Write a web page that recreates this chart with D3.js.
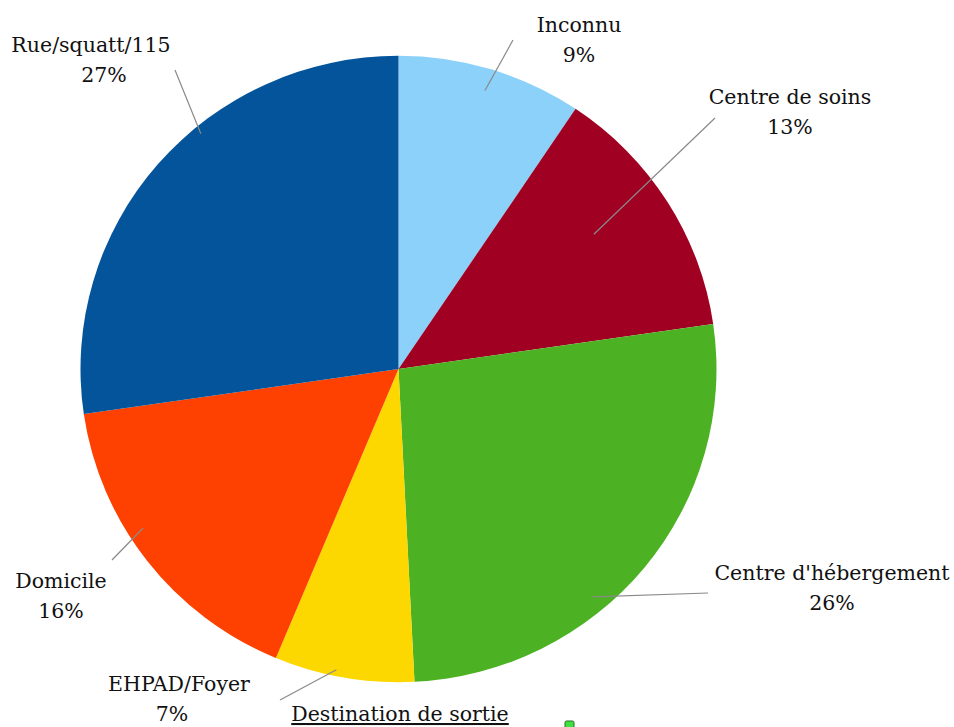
<!DOCTYPE html>
<html>
<head>
<meta charset="utf-8">
<script src="https://cdn.jsdelivr.net/npm/d3@7"></script>
<style>
  body { margin: 0; background: #fff; }
</style>
</head>
<body>
<svg id="chart" width="954" height="727"></svg>
<script>
var categories = ['Inconnu', 'Centre de soins', "Centre d'hébergement", 'EHPAD/Foyer', 'Domicile', 'Rue/squatt/115'];
var values = [9.4, 13.3, 26.5, 7.1, 16.4, 27.3];
var percentLabels = ['9%', '13%', '26%', '7%', '16%', '27%'];
var colors = ['#8bd1f9', '#a00022', '#4db223', '#fdd700', '#fe4000', '#03549b'];

var FONT = '"DejaVu Serif", serif';

// label layout: text centre, leader line inner end (angle deg, radius fraction) and outer end
var labelLayout = [
  { x: 579, y: 32, px: 579, lineAngle: 17, lineR: 0.93, lx: 513, ly: 40 },
  { x: 790, y: 104, px: 790, lineAngle: 55, lineR: 0.75, lx: 715, ly: 118 },
  { x: 832, y: 580, px: 832, lineAngle: 140, lineR: 0.95, lx: 708, ly: 593 },
  { x: 179, y: 691, px: 172, lineAngle: 191.5, lineR: 0.98, lx: 280, ly: 700 },
  { x: 61, y: 588, px: 61, lineAngle: 237.7, lineR: 0.95, lx: 112, ly: 560 },
  { x: 91, y: 52, px: 104, lineAngle: 320.4, lineR: 0.975, lx: 175, ly: 70 }
];

function renderPie() {
  var svg = d3.select('#chart'),
    cx = 398.5,
    cy = 369,
    radius = 318,
    squash = 0.985;

  var pie = d3.pie().sort(null).value(function (d) { return d; });
  var arcs = pie(values);
  var arc = d3.arc().innerRadius(0).outerRadius(radius);

  var g = svg.append('g')
    .attr('transform', 'translate(' + cx + ',' + cy + ') scale(1,' + squash + ')');

  g.selectAll('path')
    .data(arcs)
    .join('path')
    .attr('d', arc)
    .attr('fill', function (d, i) { return colors[i]; });

  // leader lines
  svg.selectAll('.leader')
    .data(labelLayout)
    .join('line')
    .attr('class', 'leader')
    .attr('x1', function (d) { return cx + radius * d.lineR * Math.sin(d.lineAngle * Math.PI / 180); })
    .attr('y1', function (d) { return cy - radius * squash * d.lineR * Math.cos(d.lineAngle * Math.PI / 180); })
    .attr('x2', function (d) { return d.lx; })
    .attr('y2', function (d) { return d.ly; })
    .attr('stroke', '#8a8a8a')
    .attr('stroke-width', 1.2);

  var labels = svg.selectAll('.label')
    .data(labelLayout)
    .join('text')
    .attr('class', 'label')
    .attr('text-anchor', 'middle')
    .attr('font-family', FONT)
    .attr('font-size', 20.5)
    .attr('fill', '#111');

  labels.append('tspan')
    .attr('x', function (d) { return d.x; })
    .attr('y', function (d) { return d.y; })
    .text(function (d, i) { return categories[i]; });

  labels.append('tspan')
    .attr('x', function (d) { return d.px; })
    .attr('y', function (d) { return d.y + 30; })
    .text(function (d, i) { return percentLabels[i]; });

  // title
  svg.append('text')
    .attr('x', 400)
    .attr('y', 721)
    .attr('text-anchor', 'middle')
    .attr('font-family', FONT)
    .attr('font-size', 20.5)
    .attr('fill', '#111')
    .attr('text-decoration', 'underline')
    .text('Destination de sortie');

  svg.append('rect')
    .attr('x', 565)
    .attr('y', 721)
    .attr('width', 9)
    .attr('height', 9)
    .attr('rx', 1.5)
    .attr('fill', '#3ee23e')
    .attr('stroke', '#2a6a2a')
    .attr('stroke-width', 1);
}

renderPie();
</script>
</body>
</html>
